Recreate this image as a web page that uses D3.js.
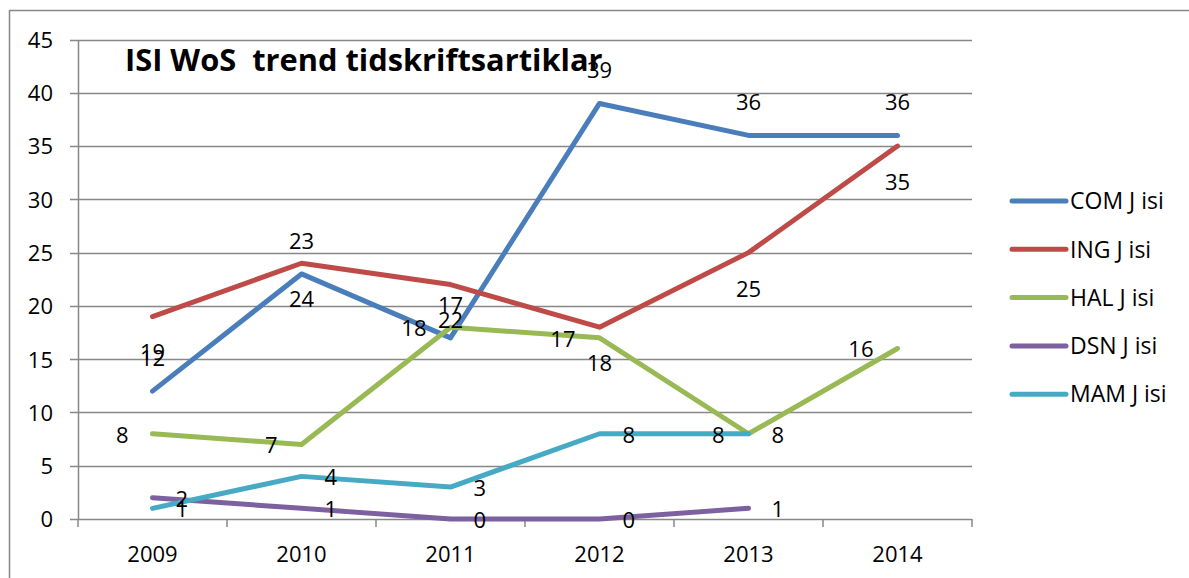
<!DOCTYPE html>
<html>
<head>
<meta charset="utf-8">
<script src="https://cdn.jsdelivr.net/npm/d3@7"></script>
<style>
  body { margin: 0; background: #fff; }
  text { font-family: "Open Sans", sans-serif; }
</style>
</head>
<body>
<div id="chart"></div>
<script>
// values
var years = ["2009", "2010", "2011", "2012", "2013", "2014"];
var comValues = [12, 23, 17, 39, 36, 36];
var ingValues = [19, 24, 22, 18, 25, 35];
var halValues = [8, 7, 18, 17, 8, 16];
var dsnValues = [2, 1, 0, 0, 1, null];
var mamValues = [1, 4, 3, 8, 8, null];
var seriesNames = ["COM J isi", "ING J isi", "HAL J isi", "DSN J isi", "MAM J isi"];
var yTicks = [0, 5, 10, 15, 20, 25, 30, 35, 40, 45];
var chartTitle = "ISI WoS  trend tidskriftsartiklar";

var series = [
  {name: seriesNames[0], values: comValues, color: "#4a7ebb", label: "above"},
  {name: seriesNames[1], values: ingValues, color: "#be4b48", label: "below"},
  {name: seriesNames[2], values: halValues, color: "#98b954", label: "left"},
  {name: seriesNames[3], values: dsnValues, color: "#7d60a0", label: "right"},
  {name: seriesNames[4], values: mamValues, color: "#46aac5", label: "right"}
];

var width = 1189, height = 578;
var plot = {left: 78, right: 972, top: 39.5, bottom: 519};
var gridColor = "#878787";

var svg = d3.select("#chart").append("svg")
  .attr("width", width)
  .attr("height", height);

// outer chart border (runs off the right and bottom edge)
svg.append("rect")
  .attr("x", 9.5)
  .attr("y", 10.5)
  .attr("width", 1220)
  .attr("height", 620)
  .attr("fill", "none")
  .attr("stroke", gridColor)
  .attr("stroke-width", 1.5);

var x = d3.scaleBand()
  .domain(years)
  .range([plot.left, plot.right]);

var y = d3.scaleLinear()
  .domain([0, 45])
  .range([plot.bottom, plot.top]);

function cx(i) { return x(years[i]) + x.bandwidth() / 2; }

// horizontal gridlines with small stubs left of the axis
svg.append("g").selectAll("line")
  .data(yTicks)
  .enter().append("line")
    .attr("x1", plot.left - 8)
    .attr("x2", plot.right)
    .attr("y1", function(d) { return Math.round(y(d)) + 0.5; })
    .attr("y2", function(d) { return Math.round(y(d)) + 0.5; })
    .attr("stroke", gridColor)
    .attr("stroke-width", 1.3);

// y axis
var yAxis = svg.append("g")
  .attr("transform", "translate(" + plot.left + ",0)")
  .call(d3.axisLeft(y).tickValues(yTicks).tickSize(0).tickPadding(25));
yAxis.select(".domain")
  .attr("stroke", gridColor)
  .attr("stroke-width", 1.5);
yAxis.selectAll("text")
  .attr("font-size", 22)
  .attr("fill", "#000")
  .attr("dy", "0.36em");

// x axis: ticks sit between the categories
var xAxis = svg.append("g")
  .attr("transform", "translate(0," + plot.bottom + ")")
  .call(d3.axisBottom(x).tickSize(0).tickPadding(0));
xAxis.select(".domain").remove();
xAxis.selectAll("text")
  .attr("font-size", 22)
  .attr("fill", "#000")
  .attr("y", 43)
  .attr("dy", 0);

var bounds = years.map(function(d) { return x(d); }).concat([plot.right]);
svg.append("g").selectAll("line")
  .data(bounds)
  .enter().append("line")
    .attr("x1", function(d) { return d; })
    .attr("x2", function(d) { return d; })
    .attr("y1", plot.bottom)
    .attr("y2", plot.bottom + 8)
    .attr("stroke", gridColor)
    .attr("stroke-width", 1.5);

// lines
var line = d3.line()
  .defined(function(d) { return d != null; })
  .x(function(d, i) { return cx(i); })
  .y(function(d) { return y(d); });

series.forEach(function(s) {
  svg.append("path")
    .datum(s.values)
    .attr("fill", "none")
    .attr("stroke", s.color)
    .attr("stroke-width", 5)
    .attr("stroke-linejoin", "round")
    .attr("stroke-linecap", "round")
    .attr("d", line);
});

// data labels, placed like the Excel original
series.forEach(function(s) {
  svg.append("g").selectAll("text")
    .data(s.values.map(function(v, i) { return {v: v, i: i}; })
      .filter(function(d) { return d.v != null; }))
    .enter().append("text")
      .attr("font-size", 22)
      .attr("fill", "#000")
      .attr("dy", "0.36em")
      .attr("text-anchor", function() {
        if (s.label == "left") return "end";
        if (s.label == "right") return "start";
        return "middle";
      })
      .attr("x", function(d) {
        if (s.label == "left") return cx(d.i) - 24;
        if (s.label == "right") return cx(d.i) + 23;
        return cx(d.i);
      })
      .attr("y", function(d) {
        if (s.label == "above") return y(d.v) - 33;
        if (s.label == "below") return y(d.v) + 36;
        return y(d.v) + 1;
      })
      .text(function(d) { return d.v; });
});

// title
svg.append("text")
  .attr("x", 125)
  .attr("y", 71)
  .attr("font-size", 30.8)
  .attr("font-weight", "bold")
  .attr("fill", "#000")
  .style("white-space", "pre")
  .text(chartTitle);

// legend
var legend = svg.append("g")
  .attr("class", "legend");

legend.selectAll("g")
  .data(series)
  .enter()
  .each(function(d, i) {
    var ly = 201 + i * 48.3;
    legend.append("line")
      .attr("x1", 1012)
      .attr("x2", 1066)
      .attr("y1", ly)
      .attr("y2", ly)
      .attr("stroke", d.color)
      .attr("stroke-width", 5)
      .attr("stroke-linecap", "round");
    legend.append("text")
      .attr("x", 1070)
      .attr("y", ly)
      .attr("dy", "0.36em")
      .attr("font-size", 23)
      .attr("fill", "#000")
      .text(d.name);
  });
</script>
</body>
</html>
